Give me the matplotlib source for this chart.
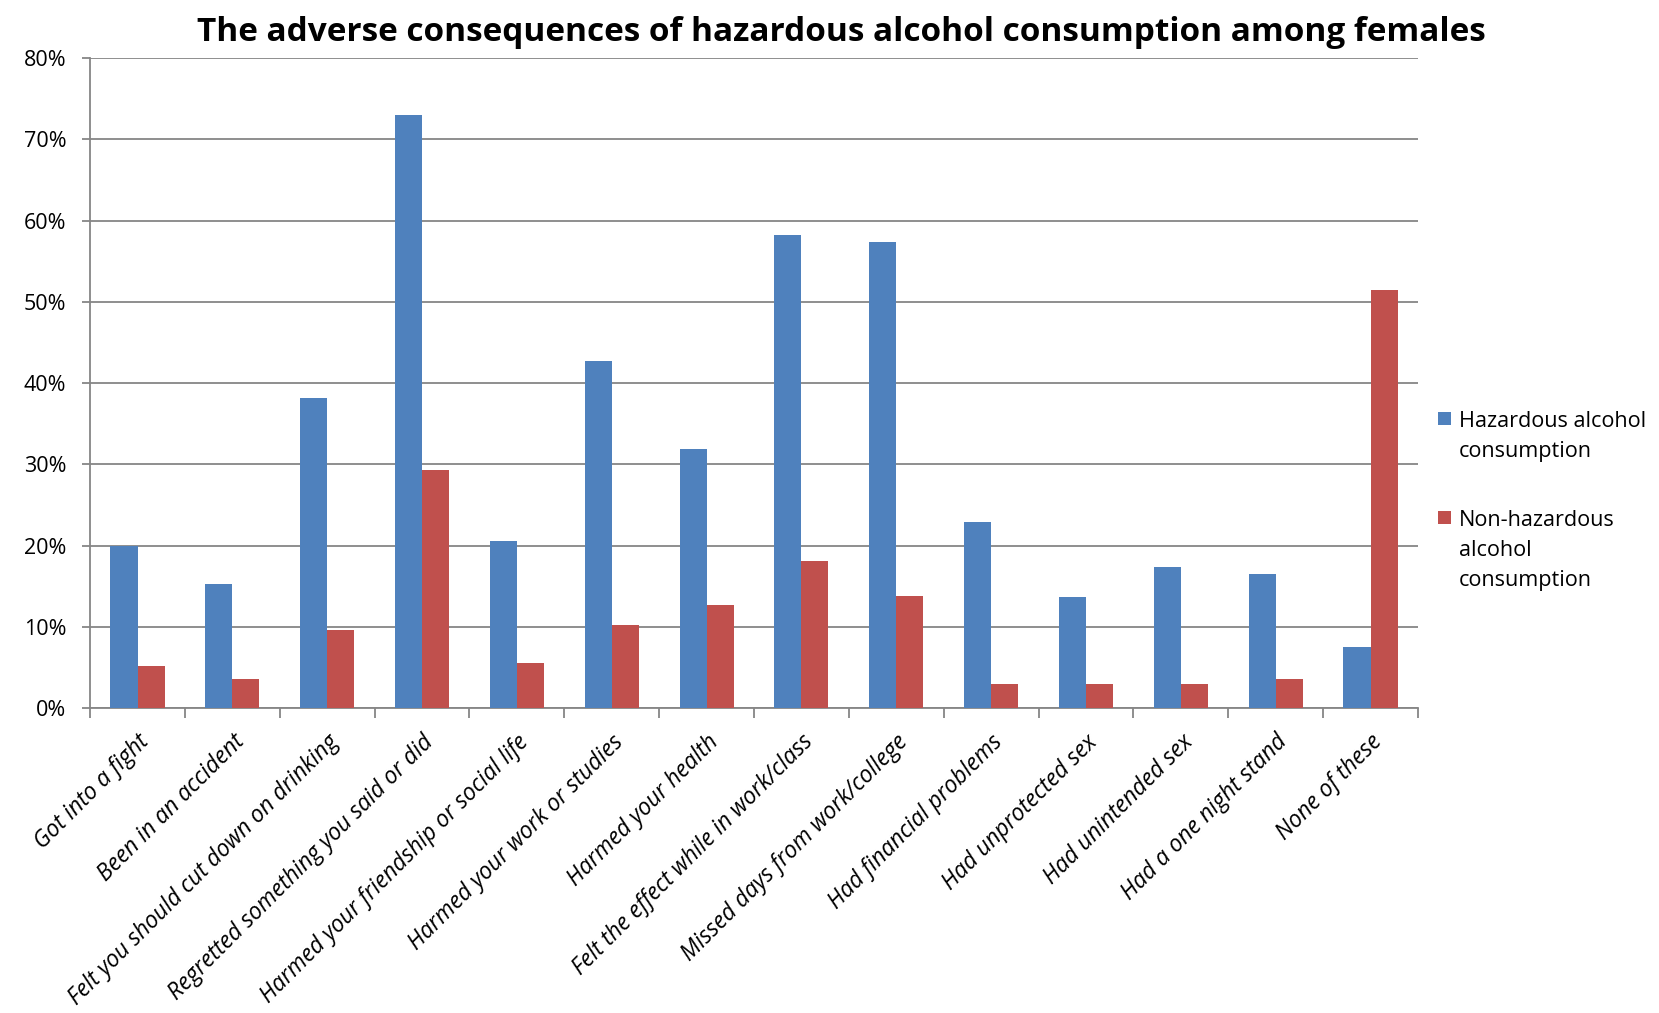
import matplotlib
matplotlib.use("Agg")
import matplotlib.pyplot as plt
import numpy as np
from matplotlib.ticker import FixedLocator, PercentFormatter
from matplotlib.patches import Rectangle

categories = [
    "Got into a fight",
    "Been in an accident",
    "Felt you should cut down on drinking",
    "Regretted something you said or did",
    "Harmed your friendship or social life",
    "Harmed your work or studies",
    "Harmed your health",
    "Felt the effect while in work/class",
    "Missed days from work/college",
    "Had financial problems",
    "Had unprotected sex",
    "Had unintended sex",
    "Had a one night stand",
    "None of these",
]
hazardous = [20.0, 15.2, 38.1, 73.0, 20.6, 42.7, 31.9, 58.2, 57.3, 22.9, 13.7, 17.3, 16.5, 7.5]
non_hazardous = [5.2, 3.6, 9.6, 29.3, 5.5, 10.2, 12.7, 18.1, 13.8, 2.9, 2.9, 2.9, 3.6, 51.5]
series_labels = ["Hazardous alcohol\nconsumption", "Non-hazardous\nalcohol\nconsumption"]
series_colors = ["#4F81BD", "#C0504D"]
title = "The adverse consequences of hazardous alcohol consumption among females"

plt.rcParams['font.family'] = ['Open Sans', 'DejaVu Sans']

fig = plt.figure(figsize=(16.59, 10.13), dpi=100)
ax = fig.add_axes([0.0543, 0.3011, 0.8004, 0.6416])

x = np.arange(len(categories))
w = 0.285
ax.bar(x - w / 2, hazardous, width=w, color=series_colors[0], zorder=3)
ax.bar(x + w / 2, non_hazardous, width=w, color=series_colors[1], zorder=3)

ax.set_xlim(-0.5, len(categories) - 0.5)
ax.set_ylim(0, 80)
ax.set_yticks(np.arange(0, 81, 10))
ax.yaxis.set_major_formatter(PercentFormatter(decimals=0))
ax.yaxis.grid(True, color="#868686", linewidth=1.3, zorder=0)
ax.set_axisbelow(True)

ax.set_xticks(x)
ax.set_xticklabels(categories, rotation=45, ha="right", rotation_mode="anchor",
                   fontsize=16.5, style="italic")
ax.tick_params(axis="x", which="major", length=0, pad=16)
ax.xaxis.set_minor_locator(FixedLocator(np.arange(-0.5, len(categories), 1.0)))
ax.tick_params(axis="x", which="minor", length=7, width=1.3, color="#868686")
ax.tick_params(axis="y", length=6, width=1.3, color="#868686", labelsize=15.5, pad=11)

for s in ["top", "right"]:
    ax.spines[s].set_visible(False)
for s in ["left", "bottom"]:
    ax.spines[s].set_color("#868686")
    ax.spines[s].set_linewidth(1.3)

fig.text(0.507, 0.968, title, ha="center", va="center", fontsize=24, fontweight="bold")

# legend (marker aligned to the first text line, as in the reference)
leg_x_box = 0.8668
leg_x_text = 0.8792
box_w, box_h = 0.00784, 0.01283
box_rows = [0.5805, 0.4827]      # bottom of each legend square
text_rows = [0.5489, 0.4219]     # baseline of the last line of each label
for label, color, yb, yt in zip(series_labels, series_colors, box_rows, text_rows):
    fig.patches.append(Rectangle((leg_x_box, yb), box_w, box_h,
                                 transform=fig.transFigure, facecolor=color,
                                 edgecolor="none"))
    fig.text(leg_x_text, yt, label, ha="left", va="baseline", fontsize=15.6,
             linespacing=1.55)

fig.savefig("out.png", dpi=100)
